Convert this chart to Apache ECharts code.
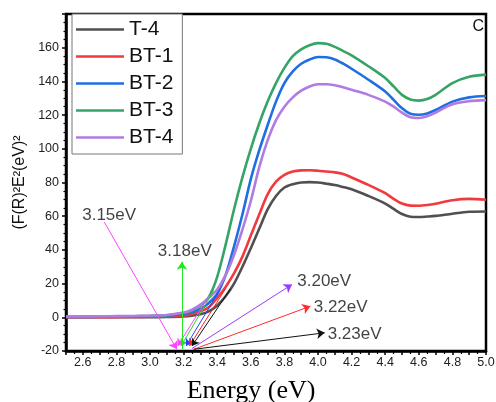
<!DOCTYPE html>
<html><head><meta charset="utf-8">
<script src="https://cdn.jsdelivr.net/npm/echarts@6/dist/echarts.min.js"></script>
<style>html,body{margin:0;padding:0;background:#fff}#c{width:496px;height:402px}</style>
</head><body><div id="c"></div>
<script>
const energy = [2.5, 2.6, 2.7, 2.8, 2.9, 3.0, 3.1, 3.2, 3.25, 3.3, 3.35, 3.4, 3.45, 3.5, 3.55, 3.6, 3.65, 3.7, 3.75, 3.8, 3.85, 3.9, 3.95, 4.0, 4.05, 4.1, 4.15, 4.2, 4.3, 4.4, 4.45, 4.5, 4.55, 4.6, 4.65, 4.7, 4.8, 4.9, 5.0];
const t4  = [0, 0, 0, 0, 0.1, 0.1, 0.2, 0.5, 1, 1.8, 3.5, 7, 12.5, 20, 30, 41, 52.5, 64, 72, 77, 79, 80, 80.2, 80, 79.3, 78.5, 77.3, 76, 72, 67.5, 64.3, 61.3, 59.7, 59.5, 59.8, 60.2, 61.5, 62.6, 62.8];
const bt1 = [0.1, 0.1, 0.1, 0.1, 0.2, 0.3, 0.5, 1, 2, 3.5, 6, 11.5, 18, 26, 36, 48.5, 61, 73, 80.5, 84.5, 86.5, 87.2, 87.3, 87, 86.5, 86, 85, 83, 78.6, 73.7, 70.3, 67.5, 66.3, 66.2, 66.6, 67.4, 69.5, 70.3, 69.8];
const bt2 = [0.2, 0.2, 0.3, 0.3, 0.4, 0.6, 1, 2, 3, 5, 8.5, 14, 25, 42, 61, 82, 99, 114, 128, 139, 146, 150.5, 153, 154.5, 154.3, 153, 150.5, 147.5, 141, 134, 129, 124, 120.8, 120.2, 121, 123, 128, 130.5, 131.3];
const bt3 = [0.3, 0.3, 0.4, 0.5, 0.6, 0.8, 1.2, 2.5, 4, 7, 12, 24, 43, 64, 83, 100, 115, 128, 139, 148, 155, 159, 161.5, 162.7, 162.3, 160.5, 158, 155.5, 149, 142, 137, 132, 129.2, 128.6, 129.5, 132, 139, 142.7, 144];
const bt4 = [0.5, 0.5, 0.6, 0.7, 0.8, 1, 1.4, 2.8, 4.5, 7.5, 11.5, 16.5, 25, 37, 52, 69, 89, 105, 117, 125, 130.5, 134.5, 137, 138.3, 138.3, 137.7, 136.5, 135, 132, 128, 125, 121.5, 118.7, 118.3, 119.3, 121.5, 126.5, 128.3, 128.9];
const seriesNames = ['T-4', 'BT-1', 'BT-2', 'BT-3', 'BT-4'];
const seriesValues = [t4, bt1, bt2, bt3, bt4];

// band-gap annotations (data coordinates)
const gapLabels = ['3.15eV', '3.18eV', '3.20eV', '3.22eV', '3.23eV'];
const gapLabelE = [2.757, 3.207, 4.037, 4.135, 4.218];
const gapLabelV = [60.5, 39.3, 21.4, 6.2, -10.1];
const pointerFrom = [[2.728, 56.5], [3.19, -19], [3.25, -18.5], [3.26, -19], [3.26, -19]];
const pointerTo   = [[3.16, -19], [3.19, 33], [3.845, 19.5], [3.955, 6.6], [4.04, -9.2]];
const tangentFrom = [[3.34, 11], [3.38, 16], [3.42, 17], [3.45, 17], [3.48, 17]];
const tangentTo   = [[3.165, -17], [3.185, -17], [3.215, -17], [3.235, -17], [3.25, -17]];

// styles
const seriesColors = ['#505050', '#f03a3d', '#1f6fe3', '#35a466', '#b07ce3'];
const pointerColors = ['#ff44ff', '#22e622', '#9a3cff', '#ff2a2a', '#111111'];
const tangentColors = ['#ff44ff', '#22dd22', '#2244ff', '#ff2020', '#111111'];
const FONT = 'Arial, "Liberation Sans", sans-serif';

const chart = echarts.init(document.getElementById('c'), null, {renderer: 'canvas'});
const series = seriesNames.map((n, k) => ({
  name: n, type: 'line', smooth: 0.3,
  symbol: 'none', showSymbol: false,
  data: energy.map((e, i) => [e, seriesValues[k][i]]),
  lineStyle: {width: 2.6, color: seriesColors[k]},
  itemStyle: {color: seriesColors[k]},
  z: 3
}));
series.push({
  type: 'lines', coordinateSystem: 'cartesian2d', silent: true, z: 4,
  symbol: ['none', 'arrow'], symbolSize: 7,
  lineStyle: {width: 1, opacity: 1},
  data: tangentFrom.map((s, i) => ({coords: [s, tangentTo[i]], lineStyle: {color: tangentColors[i], width: 1}}))
});
series.push({
  type: 'lines', coordinateSystem: 'cartesian2d', silent: true, z: 5,
  symbol: ['none', 'arrow'], symbolSize: 8,
  lineStyle: {width: 1, opacity: 1},
  data: pointerFrom.map((s, i) => ({coords: [s, pointerTo[i]], lineStyle: {color: pointerColors[i], width: 1}}))
});
series.push({
  type: 'scatter', silent: true, z: 6, symbolSize: 1,
  itemStyle: {color: 'rgba(0,0,0,0)'},
  data: gapLabels.map((t, i) => ({name: t, value: [gapLabelE[i], gapLabelV[i]]})),
  label: {show: true, position: 'inside', formatter: '{b}', fontSize: 17, color: '#111', fontFamily: FONT}
});

chart.setOption({
  animation: false,
  backgroundColor: '#fff',
  title: {text: 'C', right: 12, top: 19, padding: 0, textStyle: {fontSize: 16, fontWeight: 'normal', color: '#111', fontFamily: FONT}},
  legend: {
    data: seriesNames, orient: 'vertical', left: 72, top: 14,
    padding: [5, 9, 6, 4], itemGap: 6, itemWidth: 48, itemHeight: 2.5, icon: 'rect',
    borderColor: '#777', borderWidth: 1, backgroundColor: '#fff',
    textStyle: {fontSize: 21, lineHeight: 21, color: '#111', fontFamily: FONT}
  },
  grid: {left: 66, right: 10, top: 14, bottom: 51, show: true, borderColor: '#000', borderWidth: 2.5, containLabel: false, outerBoundsMode: 'none'},
  xAxis: {
    type: 'value', min: 2.5, max: 5.0, interval: 0.1,
    axisLine: {onZero: false, lineStyle: {color: '#000', width: 2.5}},
    axisTick: {length: 4, lineStyle: {color: '#000', width: 1.5}},
    minorTick: {show: true, splitNumber: 2, length: 3, lineStyle: {color: '#000', width: 1.2}},
    splitLine: {show: false},
    axisLabel: {
      margin: 5, fontSize: 12.5, color: '#222', fontFamily: FONT,
      formatter: v => (Math.round(v * 10) % 2 === 0 && v > 2.55) ? v.toFixed(1) : ''
    },
    name: 'Energy (eV)', nameLocation: 'middle', nameGap: 27,
    nameTextStyle: {fontFamily: '"Liberation Serif", "Times New Roman", serif', fontSize: 26, color: '#000', padding: [0, 50, 0, 0]}
  },
  yAxis: {
    type: 'value', min: -20, max: 180, interval: 20,
    axisLine: {show: true, onZero: false, lineStyle: {color: '#000', width: 2.5}},
    axisTick: {show: true, length: 4, lineStyle: {color: '#000', width: 1.5}},
    minorTick: {show: true, splitNumber: 4, length: 2.5, lineStyle: {color: '#000', width: 1.2}},
    splitLine: {show: false},
    axisLabel: {margin: 7, fontSize: 12.5, color: '#222', fontFamily: FONT, showMaxLabel: false,
      formatter: v => v >= 180 ? '' : String(v)},
    name: '(F(R)\u00b2E\u00b2(eV)\u00b2', nameLocation: 'middle', nameGap: 38,
    nameTextStyle: {fontSize: 16, color: '#111', fontFamily: FONT}
  },
  series: series
});
</script></body></html>
